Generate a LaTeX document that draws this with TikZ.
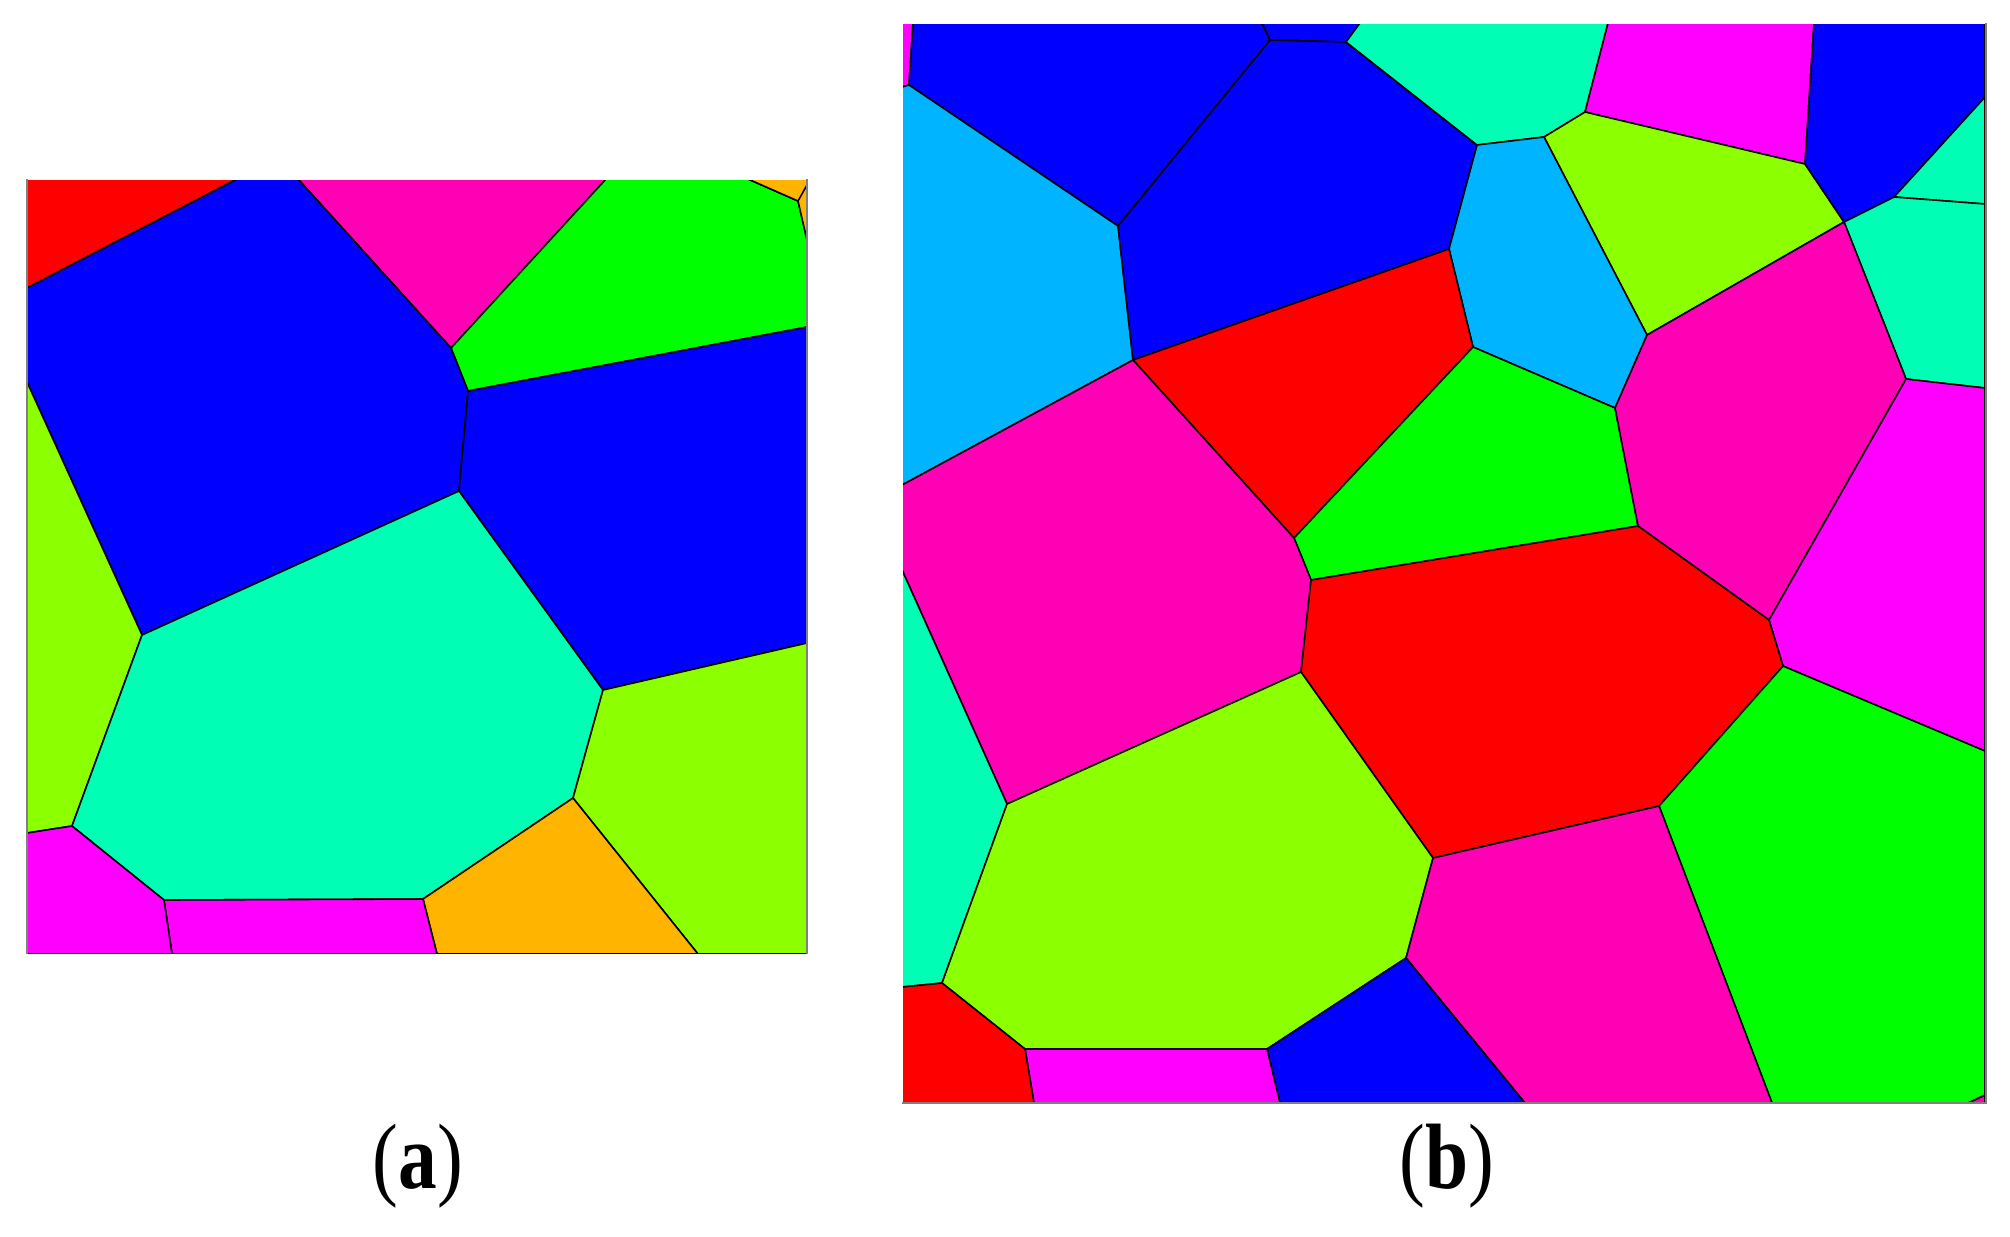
\documentclass[tikz,border=0pt]{standalone}
\usepackage{graphicx}
\usepackage{fontspec}
\setmainfont{Liberation Serif}
\definecolor{cRed}{HTML}{FF0000}
\definecolor{cBlue}{HTML}{0000FF}
\definecolor{cPink}{HTML}{FF00B4}
\definecolor{cMag}{HTML}{FF00FF}
\definecolor{cGreen}{HTML}{00FF00}
\definecolor{cLime}{HTML}{8CFF00}
\definecolor{cAqua}{HTML}{00FFB4}
\definecolor{cSky}{HTML}{00B4FF}
\definecolor{cOrange}{HTML}{FFB400}
\tikzset{
  cell/.style={draw=black, line width=0.45pt, line join=round},
  frameline/.style={draw=gray, line width=0.6pt},
  caption/.style={font=\fontsize{22}{26}\selectfont, inner sep=0pt}
}
\begin{document}
\begin{tikzpicture}[x=0.01cm, y=-0.01cm]
\useasboundingbox (0,0) rectangle (2010,1236);
% ---------------- panel (a) ----------------
\begin{scope}
\clip (28,180) rectangle (806,953);
\fill[cell, fill=cRed] (27,179) -- (237,179) -- (27,288) -- cycle;
\fill[cell, fill=cPink] (298,179) -- (606,179) -- (451,348) -- cycle;
\fill[cell, fill=cGreen] (606,179) -- (748,179) -- (798,201) -- (807,240) -- (807,327) -- (468,391) -- (451,348) -- cycle;
\fill[cell, fill=cOrange] (748,179) -- (807,179) -- (807,240) -- (798,201) -- cycle;
\draw[cell] (798,201) -- (807,185);
\fill[cell, fill=cBlue] (27,288) -- (237,179) -- (298,179) -- (451,348) -- (468,391) -- (459,491) -- (142,635) -- (27,382) -- cycle;
\fill[cell, fill=cBlue] (468,391) -- (807,327) -- (807,643) -- (603,690) -- (459,491) -- cycle;
\fill[cell, fill=cLime] (27,382) -- (142,635) -- (72,826) -- (27,833) -- cycle;
\fill[cell, fill=cAqua] (142,635) -- (459,491) -- (603,690) -- (573,798) -- (423,899) -- (164,900) -- (72,826) -- cycle;
\fill[cell, fill=cLime] (603,690) -- (807,643) -- (807,954) -- (698,954) -- (573,798) -- cycle;
\fill[cell, fill=cOrange] (573,798) -- (698,954) -- (437,954) -- (423,899) -- cycle;
\fill[cell, fill=cMag] (164,900) -- (423,899) -- (437,954) -- (172,954) -- cycle;
\fill[cell, fill=cMag] (27,833) -- (72,826) -- (164,900) -- (172,954) -- (27,954) -- cycle;
\end{scope}
\draw[frameline] (27,179) -- (27,954);
\draw[frameline] (807,179) -- (807,954);
% ---------------- panel (b) ----------------
\begin{scope}
\clip (903,24) rectangle (1985,1102);
\fill[cell, fill=cMag] (902,23) -- (913,23) -- (909,85) -- (902,87) -- cycle;
\fill[cell, fill=cBlue] (913,23) -- (1262,23) -- (1270,40) -- (1118,226) -- (909,85) -- cycle;
\fill[cell, fill=cBlue] (1262,23) -- (1360,23) -- (1346,42) -- (1270,40) -- cycle;
\fill[cell, fill=cSky] (902,87) -- (909,85) -- (1118,226) -- (1133,360) -- (902,485) -- cycle;
\fill[cell, fill=cBlue] (1270,40) -- (1346,42) -- (1477,145) -- (1449,249) -- (1133,360) -- (1118,226) -- cycle;
\fill[cell, fill=cAqua] (1360,23) -- (1608,23) -- (1585,112) -- (1544,137) -- (1477,145) -- (1346,42) -- cycle;
\fill[cell, fill=cMag] (1608,23) -- (1814,23) -- (1805,164) -- (1585,112) -- cycle;
\fill[cell, fill=cLime] (1585,112) -- (1805,164) -- (1844,222) -- (1647,335) -- (1544,137) -- cycle;
\fill[cell, fill=cBlue] (1814,23) -- (1985,23) -- (1985,97) -- (1894,197) -- (1844,222) -- (1805,164) -- cycle;
\fill[cell, fill=cAqua] (1985,97) -- (1985,204) -- (1894,197) -- cycle;
\fill[cell, fill=cAqua] (1894,197) -- (1985,204) -- (1985,388) -- (1906,379) -- (1844,222) -- cycle;
\fill[cell, fill=cSky] (1477,145) -- (1544,137) -- (1647,335) -- (1615,408) -- (1473,347) -- (1449,249) -- cycle;
\fill[cell, fill=cRed] (1133,360) -- (1449,249) -- (1473,347) -- (1294,538) -- cycle;
\fill[cell, fill=cGreen] (1294,538) -- (1473,347) -- (1615,408) -- (1638,526) -- (1311,580) -- cycle;
\fill[cell, fill=cPink] (1844,222) -- (1906,379) -- (1769,620) -- (1638,526) -- (1615,408) -- (1647,335) -- cycle;
\fill[cell, fill=cMag] (1906,379) -- (1985,388) -- (1985,751) -- (1783,666) -- (1769,620) -- cycle;
\fill[cell, fill=cPink] (902,485) -- (1133,360) -- (1294,538) -- (1311,580) -- (1301,672) -- (1007,804) -- (902,570) -- cycle;
\fill[cell, fill=cRed] (1311,580) -- (1638,526) -- (1769,620) -- (1783,666) -- (1659,806) -- (1433,858) -- (1301,672) -- cycle;
\fill[cell, fill=cGreen] (1783,666) -- (1985,751) -- (1985,1095) -- (1968,1103) -- (1772,1103) -- (1659,806) -- cycle;
\fill[cell, fill=cPink] (1968,1103) -- (1985,1103) -- (1985,1095) -- cycle;
\fill[cell, fill=cAqua] (902,570) -- (1007,804) -- (942,983) -- (902,987) -- cycle;
\fill[cell, fill=cLime] (1007,804) -- (1301,672) -- (1433,858) -- (1406,958) -- (1267,1049) -- (1025,1049) -- (942,983) -- cycle;
\fill[cell, fill=cPink] (1433,858) -- (1659,806) -- (1772,1103) -- (1525,1103) -- (1406,958) -- cycle;
\fill[cell, fill=cBlue] (1267,1049) -- (1406,958) -- (1525,1103) -- (1280,1103) -- cycle;
\fill[cell, fill=cMag] (1025,1049) -- (1267,1049) -- (1280,1103) -- (1034,1103) -- cycle;
\fill[cell, fill=cRed] (902,987) -- (942,983) -- (1025,1049) -- (1034,1103) -- (902,1103) -- cycle;
\end{scope}
\draw[frameline] (1986,23) -- (1986,1103) -- (902,1103);
% ---------------- captions ----------------
\node[caption] (capa) at (418,1166) {\scalebox{1}[1.2]{(\textbf{a})}};
\node[caption] (capb) at (1447,1166) {\scalebox{1}[1.2]{(\textbf{b})}};
\end{tikzpicture}
\end{document}
